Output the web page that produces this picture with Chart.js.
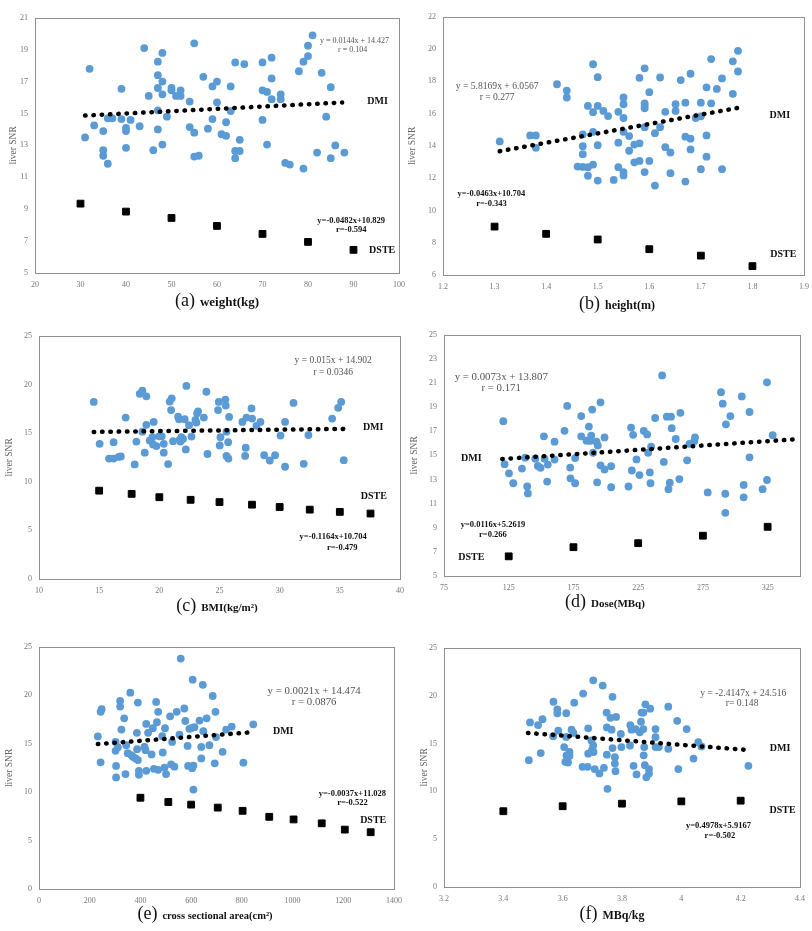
<!DOCTYPE html>
<html>
<head>
<meta charset="utf-8">
<script src="https://cdn.jsdelivr.net/npm/chart.js@4.4.1/dist/chart.umd.min.js"></script>
<style>
  body { margin: 0; background: #fff; width: 812px; height: 931px; position: relative; overflow: hidden; font-family: "Liberation Serif", serif; }
  canvas { position: absolute; }
  .cap { position: absolute; transform: translate(-50%, -50%); white-space: nowrap; color: #111; }
  .cap .p { font-size: 18px; }
  .cap .l { font-weight: bold; margin-left: 5px; }
</style>
</head>
<body>
<script>
// ---- data ----
// (a) weight
const weightTicksX = [20, 30, 40, 50, 60, 70, 80, 90, 100];
const weightTicksY = [5, 7, 9, 11, 13, 15, 17, 19, 21];
const weightDmi = [[31,13.5],[32,17.8],[33,14.25],[35,13.9],[35,12.7],[35,12.35],[36,11.85],[36,14.7],[37,14.7],[39,16.55],[39,14.65],[40,14.1],[40,13.9],[40,12.85],[41,14.6],[43,14.2],[44,19.1],[45,16.1],[46,12.7],[47,18.25],[47,17.4],[47,16.6],[47,15.2],[47,14.0],[48,18.8],[48,17.0],[48,16.2],[48,13.05],[49,14.8],[50,16.6],[50,16.45],[51,16.1],[52,16.45],[52,16.1],[54,15.75],[54,14.15],[55,19.4],[55,13.8],[55,12.3],[56,12.35],[57,17.3],[58,14.05],[59,16.7],[59,14.65],[60,17.0],[60,15.7],[61,13.7],[62,14.45],[62,13.6],[63,15.15],[63,16.7],[64,18.2],[64,12.65],[64,12.2],[65,12.65],[65,13.35],[66,18.1],[70,18.2],[70,16.45],[70,14.6],[71,16.35],[71,13.05],[72,18.5],[72,17.2],[72,15.9],[74,16.2],[74,15.9],[75,11.9],[76,11.8],[78,17.65],[79,11.55],[79,18.25],[80,18.6],[80,19.25],[81,19.9],[82,12.55],[83,17.55],[84,14.8],[85,16.65],[85,12.2],[86,13.0],[88,12.55]];
const weightDste = [[30,9.35],[40,8.85],[50,8.45],[60,7.95],[70,7.45],[80,6.95],[90,6.45]];
const weightTrend = [[31,14.87],[87.5,15.69]];

// (b) height
const heightTicksX = [1.2, 1.3, 1.4, 1.5, 1.6, 1.7, 1.8, 1.9];
const heightTicksY = [6, 8, 10, 12, 14, 16, 18, 20, 22];
const heightDmi = [[1.31,14.28],[1.369,14.65],[1.38,14.65],[1.38,13.88],[1.421,17.82],[1.44,17.43],[1.44,17.0],[1.461,12.72],[1.471,13.98],[1.471,13.49],[1.471,14.71],[1.471,12.7],[1.481,12.68],[1.481,12.15],[1.481,16.48],[1.491,19.06],[1.491,16.09],[1.491,14.87],[1.491,12.84],[1.5,18.26],[1.5,16.48],[1.5,14.04],[1.5,11.85],[1.511,16.17],[1.52,15.85],[1.531,11.89],[1.54,16.11],[1.54,14.2],[1.54,12.68],[1.55,17.0],[1.55,16.58],[1.55,15.73],[1.55,14.87],[1.55,12.38],[1.55,12.17],[1.561,14.61],[1.561,13.7],[1.571,14.08],[1.571,12.98],[1.581,18.22],[1.581,14.16],[1.581,13.07],[1.591,18.81],[1.591,16.64],[1.591,16.48],[1.591,16.33],[1.591,15.16],[1.591,12.38],[1.6,17.33],[1.6,13.07],[1.611,14.79],[1.611,11.54],[1.621,18.24],[1.621,15.16],[1.631,16.11],[1.631,13.92],[1.641,13.59],[1.641,12.31],[1.651,16.58],[1.651,16.17],[1.661,18.08],[1.67,16.68],[1.67,14.57],[1.67,11.79],[1.68,18.47],[1.68,14.45],[1.68,13.78],[1.69,15.73],[1.7,16.68],[1.7,15.83],[1.7,12.56],[1.711,17.63],[1.711,14.65],[1.711,13.33],[1.72,19.38],[1.72,16.64],[1.731,17.53],[1.741,18.18],[1.741,12.56],[1.762,19.24],[1.762,17.23],[1.772,19.89],[1.772,18.61]];
const heightDste = [[1.3,9.0],[1.4,8.55],[1.5,8.2],[1.6,7.6],[1.7,7.2],[1.8,6.55]];
const heightTrend = [[1.31,13.67],[1.783,16.42]];

// (c) BMI
const bmiTicksX = [10, 15, 20, 25, 30, 35, 40];
const bmiTicksY = [0, 5, 10, 15, 20, 25];
const bmiDmi = [[14.55,18.2],[15.04,13.9],[15.82,12.38],[16.2,12.38],[16.2,14.06],[16.62,12.55],[16.8,12.6],[17.2,16.59],[17.95,11.78],[18.09,14.13],[18.37,19.04],[18.59,19.35],[18.59,15.14],[18.79,12.99],[18.92,18.78],[18.92,15.85],[19.2,14.23],[19.42,14.57],[19.48,13.83],[19.53,16.15],[19.76,13.66],[19.98,14.67],[20.2,14.67],[20.37,13.9],[20.37,12.99],[20.73,11.81],[20.86,18.24],[21.03,18.57],[20.98,17.36],[21.14,14.17],[21.56,16.69],[21.64,16.42],[21.7,14.33],[21.75,14.13],[21.83,14.57],[21.97,14.4],[22.11,16.42],[22.2,13.32],[22.25,19.85],[22.47,15.81],[22.67,14.64],[23.0,16.35],[23.08,16.08],[23.14,17.03],[23.22,17.23],[23.7,16.59],[23.91,19.25],[24.0,12.85],[24.88,17.36],[24.94,18.2],[25.02,13.73],[25.08,14.57],[25.49,18.44],[25.52,17.83],[25.58,15.14],[25.58,12.65],[25.72,14.06],[25.74,12.38],[25.8,16.66],[26.9,16.15],[27.13,12.65],[27.18,13.49],[27.24,16.59],[27.66,17.53],[27.71,16.49],[28.07,15.75],[28.4,16.15],[28.71,12.72],[29.18,12.18],[29.62,12.72],[30.07,14.74],[30.45,11.54],[30.45,16.15],[31.15,18.1],[32.0,11.84],[32.39,14.8],[34.36,16.49],[34.86,17.6],[35.11,18.2],[35.33,12.21]];
const bmiDste = [[15,9.08],[17.7,8.75],[20,8.41],[22.6,8.14],[25,7.91],[27.7,7.64],[30,7.4],[32.5,7.13],[35,6.9],[37.55,6.73]];
const bmiTrend = [[14.55,15.12],[35.3,15.43]];

// (d) dose
const doseTicksX = [75, 125, 175, 225, 275, 325];
const doseTicksY = [5, 7, 9, 11, 13, 15, 17, 19, 21, 23, 25];
const doseDmi = [[120.8,17.83],[121.8,14.27],[125.2,13.51],[128.5,12.69],[135.2,13.91],[137.8,14.81],[139.3,12.42],[139.8,11.85],[145.5,14.73],[147.5,14.13],[149.6,13.97],[152.2,16.58],[152.7,14.73],[154.7,12.83],[155.2,14.24],[160.4,16.14],[160.4,14.65],[168.1,17.04],[170.2,19.1],[172.5,13.99],[172.7,13.1],[176.3,12.69],[176.3,14.78],[181,18.26],[181,16.58],[185.1,16.22],[186.9,17.39],[187.7,16.2],[188.7,16.63],[189.5,18.8],[190.2,15.22],[192.8,16.14],[193.8,15.82],[193.3,12.77],[195.9,19.4],[195.9,14.18],[199,16.49],[199,13.83],[204.1,14.1],[204.1,12.36],[217.5,12.42],[219.5,17.31],[220.1,13.75],[221.1,16.71],[223.7,14.67],[226,13.37],[229.3,17.04],[231.9,16.74],[232.7,15.22],[234,13.59],[234.5,12.69],[235,15.73],[238.1,18.1],[243.5,21.63],[244.8,14.46],[247.1,18.21],[248.4,12.2],[249.4,12.74],[250.4,18.21],[250.9,17.26],[254,16.36],[256.8,13.04],[257.6,18.53],[262.8,14.59],[264.6,15.95],[268.4,16.2],[268.9,16.49],[278.7,11.93],[289,20.24],[290.3,19.29],[292.3,11.82],[292.3,10.24],[292.8,17.58],[296.2,18.26],[305,19.89],[306.5,12.55],[306.5,11.52],[311,18.6],[311,14.84],[321.1,12.2],[324.5,21.06],[324.5,12.96],[328.9,16.68]];
const doseDste = [[125,6.63],[175,7.39],[225,7.72],[275,8.34],[325,9.08]];
const doseTrend = [[120,14.7],[345.6,16.33]];

// (e) cross sectional area
const areaTicksX = [0, 200, 400, 600, 800, 1000, 1200, 1400];
const areaTicksY = [0, 5, 10, 15, 20, 25];
const areaDmi = [[232,15.75],[243,13.08],[243,18.29],[247,18.56],[302,15.18],[302,14.26],[304,12.7],[304,11.52],[311,14.63],[320,19.41],[320,18.83],[325,16.46],[336,17.62],[341,11.86],[344,14.84],[350,14.02],[360,20.26],[364,13.82],[370,13.65],[381,13.48],[386,16.12],[387,14.43],[390,19.24],[390,13.31],[394,12.2],[394,11.79],[416,14.67],[420,14.33],[423,17.04],[423,12.2],[430,16.12],[444,13.89],[449,16.6],[453,12.4],[462,19.31],[465,17.21],[470,12.3],[470,18.29],[486,15.79],[488,14.09],[495,12.53],[497,16.6],[501,11.86],[517,17.82],[521,12.87],[525,15.18],[534,12.63],[543,18.29],[554,15.92],[559,23.78],[573,18.63],[577,17.34],[586,14.77],[588,12.7],[593,16.53],[600,16.6],[604,12.47],[606,21.61],[609,10.26],[609,12.74],[613,16.7],[633,17.38],[640,14.67],[646,21.07],[648,16.29],[640,13.48],[661,17.62],[672,14.84],[685,19.92],[693,12.97],[696,18.29],[698,15.68],[724,14.16],[738,16.46],[760,16.77],[806,13.04],[845,17.0]];
const areaDste = [[400,9.42],[510,8.98],[600,8.71],[705,8.4],[803,8.07],[908,7.45],[1004,7.18],[1115,6.78],[1206,6.13],[1308,5.86]];
const areaTrend = [[232,14.96],[849,16.2]];

// (f) MBq/kg
const perKgTicksX = [3.2, 3.4, 3.6, 3.8, 4.0, 4.2, 4.4];
const perKgTicksY = [0, 5, 10, 15, 20, 25];
const perKgDmi = [[3.486,13.25],[3.49,17.2],[3.517,16.92],[3.526,14.0],[3.532,17.54],[3.569,19.36],[3.568,15.76],[3.582,18.57],[3.582,18.16],[3.585,16.34],[3.605,14.62],[3.609,13.08],[3.612,18.16],[3.612,15.69],[3.613,13.76],[3.618,13.01],[3.623,14.11],[3.623,13.69],[3.63,16.44],[3.636,16.1],[3.639,19.26],[3.667,12.56],[3.669,20.22],[3.684,12.56],[3.686,16.58],[3.686,13.93],[3.697,15.31],[3.699,14.31],[3.703,21.6],[3.703,14.79],[3.704,14.11],[3.708,12.32],[3.724,11.87],[3.735,21.05],[3.739,12.46],[3.748,18.23],[3.749,16.68],[3.749,13.83],[3.751,10.26],[3.761,17.68],[3.765,16.44],[3.768,19.88],[3.768,14.52],[3.776,13.56],[3.776,12.9],[3.778,12.11],[3.78,17.78],[3.796,16.0],[3.798,14.62],[3.828,16.92],[3.832,16.44],[3.827,14.79],[3.839,12.66],[3.846,16.51],[3.849,11.77],[3.86,16.17],[3.864,17.27],[3.866,18.23],[3.872,18.23],[3.872,16.51],[3.873,13.76],[3.875,14.62],[3.877,12.73],[3.879,19.09],[3.882,11.46],[3.891,12.32],[3.891,11.87],[3.895,18.64],[3.913,16.51],[3.913,15.65],[3.913,14.62],[3.924,14.62],[3.956,14.45],[3.956,18.85],[3.986,17.37],[3.99,12.32],[4.018,16.51],[4.041,13.42],[4.057,15.14],[4.068,14.69],[4.226,12.66]];
const perKgDste = [[3.4,7.92],[3.6,8.44],[3.8,8.71],[4.0,8.95],[4.2,9.02]];
const perKgTrend = [[3.483,16.1],[4.212,14.35]];

// annotation texts (anchored in data units)
const weightNotes = [
  { t: 'y = 0.0144x + 14.427', x: 90.2, y: 19.54, k: 'eq' }, { t: 'r = 0.104', x: 89.8, y: 18.98, k: 'eq' },
  { t: 'DMI', x: 95.3, y: 15.77, k: 'lab' },
  { t: 'y=-0.0482x+10.829', x: 89.5, y: 8.3, k: 'eqb' }, { t: 'r=-0.594', x: 89.5, y: 7.7, k: 'eqb' },
  { t: 'DSTE', x: 96.3, y: 6.39, k: 'lab' }
];
const heightNotes = [
  { t: 'y = 5.8169x + 6.0567', x: 1.305, y: 17.7, k: 'eq' }, { t: 'r = 0.277', x: 1.305, y: 16.98, k: 'eq' },
  { t: 'DMI', x: 1.853, y: 15.87, k: 'lab' },
  { t: 'y=-0.0463x+10.704', x: 1.294, y: 11.04, k: 'eqb' }, { t: 'r=-0.343', x: 1.294, y: 10.43, k: 'eqb' },
  { t: 'DSTE', x: 1.86, y: 7.3, k: 'lab' }
];
const bmiNotes = [
  { t: 'y = 0.015x + 14.902', x: 34.45, y: 22.41, k: 'eq' }, { t: 'r = 0.0346', x: 34.45, y: 21.23, k: 'eq' },
  { t: 'DMI', x: 37.77, y: 15.58, k: 'lab' }, { t: 'DSTE', x: 37.83, y: 8.51, k: 'lab' },
  { t: 'y=-0.1164x+10.704', x: 34.45, y: 4.31, k: 'eqb' }, { t: 'r=-0.479', x: 35.2, y: 3.23, k: 'eqb' }
];
const doseNotes = [
  { t: 'y = 0.0073x + 13.807', x: 119.2, y: 21.47, k: 'eq' }, { t: 'r = 0.171', x: 119.2, y: 20.54, k: 'eq' },
  { t: 'DMI', x: 96.1, y: 14.78, k: 'lab' },
  { t: 'y=0.0116x+5.2619', x: 112.8, y: 9.21, k: 'eqb' }, { t: 'r=0.266', x: 112.8, y: 8.4, k: 'eqb' },
  { t: 'DSTE', x: 96.1, y: 6.58, k: 'lab' }
];
const areaNotes = [
  { t: 'y = 0.0021x + 14.474', x: 1085, y: 20.43, k: 'eq' }, { t: 'r = 0.0876', x: 1085, y: 19.31, k: 'eq' },
  { t: 'DMI', x: 963, y: 16.26, k: 'lab' },
  { t: 'y=-0.0037x+11.028', x: 1236, y: 9.82, k: 'eqb' }, { t: 'r=-0.522', x: 1236, y: 8.88, k: 'eqb' },
  { t: 'DSTE', x: 1318, y: 7.11, k: 'lab' }
];
const perKgNotes = [
  { t: 'y = -2.4147x + 24.516', x: 4.209, y: 20.22, k: 'eq' }, { t: 'r= 0.148', x: 4.205, y: 19.16, k: 'eq' },
  { t: 'DMI', x: 4.333, y: 14.45, k: 'lab' }, { t: 'DSTE', x: 4.341, y: 8.02, k: 'lab' },
  { t: 'y=0.4978x+5.9167', x: 4.125, y: 6.37, k: 'eqb' }, { t: 'r=-0.502', x: 4.13, y: 5.34, k: 'eqb' }
];

// ---- layout of the six panels (plot rectangle in page px) ----
const panels = [
  { l: 35,  t: 14,  r: 400, b: 273, yw: 27, tx: weightTicksX, ty: weightTicksY, dmi: weightDmi, dste: weightDste, trend: weightTrend, notes: weightNotes, eq: 8,
    cap: { x: 217, y: 300, p: '(a)', label: 'weight(kg)', size: 13 } },
  { l: 443, t: 13,  r: 804, b: 275, yw: 36, tx: heightTicksX, ty: heightTicksY, dmi: heightDmi, dste: heightDste, trend: heightTrend, notes: heightNotes, eq: 9.6,
    cap: { x: 617, y: 303, p: '(b)', label: 'height(m)', size: 12 } },
  { l: 39,  t: 332, r: 400, b: 579, yw: 35, tx: bmiTicksX, ty: bmiTicksY, dmi: bmiDmi, dste: bmiDste, trend: bmiTrend, notes: bmiNotes, eq: 9.5,
    cap: { x: 217, y: 605, p: '(c)', label: 'BMI(kg/m\u00b2)', size: 11 } },
  { l: 444, t: 331, r: 800, b: 576, yw: 35, tx: doseTicksX, ty: doseTicksY, dmi: doseDmi, dste: doseDste, trend: doseTrend, notes: doseNotes, eq: 10.8,
    xmax: 350, cap: { x: 605, y: 601, p: '(d)', label: 'Dose(MBq)', size: 11 } },
  { l: 39,  t: 643, r: 397, b: 889, yw: 35, tx: areaTicksX, ty: areaTicksY, dmi: areaDmi, dste: areaDste, trend: areaTrend, notes: areaNotes, eq: 10.8,
    cap: { x: 205, y: 913, p: '(e)', label: 'cross sectional area(cm\u00b2)', size: 10.5 } },
  { l: 444, t: 644, r: 800, b: 887, yw: 25, tx: perKgTicksX, ty: perKgTicksY, dmi: perKgDmi, dste: perKgDste, trend: perKgTrend, notes: perKgNotes, eq: 9.6,
    cap: { x: 612, y: 913, p: '(f)', label: 'MBq/kg', size: 12 } }
];

const SERIF = '"Liberation Serif", "Times New Roman", serif';
const BLUE = '#5B9BD5';
const PAD_T = 8, PAD_R = 12, XH = 22;

// grey frame round the plot area
const framePlugin = {
  id: 'frame',
  afterDraw(chart) {
    const a = chart.chartArea, ctx = chart.ctx;
    ctx.save();
    ctx.strokeStyle = '#8f8f8f';
    ctx.lineWidth = 1;
    ctx.strokeRect(Math.round(a.left) + 0.5, Math.round(a.top) + 0.5, Math.round(a.right - a.left), Math.round(a.bottom - a.top));
    ctx.restore();
  }
};

// equation / series labels
const notesPlugin = {
  id: 'notes',
  afterDatasetsDraw(chart, args, opts) {
    const { ctx, scales } = chart;
    ctx.save();
    ctx.textAlign = 'center';
    ctx.textBaseline = 'middle';
    opts.items.forEach(n => {
      if (n.k === 'eq') { ctx.font = opts.eq + 'px ' + SERIF; ctx.fillStyle = '#555'; }
      else if (n.k === 'eqb') { ctx.font = 'bold 8.5px ' + SERIF; ctx.fillStyle = '#111'; }
      else { ctx.font = 'bold 10px ' + SERIF; ctx.fillStyle = '#111'; }
      ctx.fillText(n.t, scales.x.getPixelForValue(n.x), scales.y.getPixelForValue(n.y));
    });
    ctx.restore();
  }
};

const fmt = v => String(Number(v.toFixed(2)));
const pts = arr => arr.map(([x, y]) => ({ x, y }));

panels.forEach(p => {
  const W = p.r - p.l + p.yw + PAD_R, H = p.b - p.t + PAD_T + XH;
  const cv = document.createElement('canvas');
  cv.width = W; cv.height = H;
  cv.style.left = (p.l - p.yw) + 'px';
  cv.style.top = (p.t - PAD_T) + 'px';
  cv.style.width = W + 'px'; cv.style.height = H + 'px';
  document.body.appendChild(cv);

  const cap = document.createElement('div');
  cap.className = 'cap';
  cap.style.left = p.cap.x + 'px';
  cap.style.top = p.cap.y + 'px';
  cap.innerHTML = '<span class="p">' + p.cap.p + '</span><span class="l" style="font-size:' + p.cap.size + 'px">' + p.cap.label + '</span>';
  document.body.appendChild(cap);

  new Chart(cv.getContext('2d'), {
    type: 'scatter',
    data: {
      datasets: [
        { label: 'trend', data: pts(p.trend), showLine: true, pointRadius: 0, borderColor: '#000', borderWidth: 4.5,
          borderDash: [0.5, 7.8], borderCapStyle: 'round', order: 0 },
        { label: 'DSTE', data: pts(p.dste), pointStyle: 'rect', pointRadius: 4.8, backgroundColor: '#000', borderColor: '#000', borderWidth: 1, order: 1 },
        { label: 'DMI', data: pts(p.dmi), pointStyle: 'circle', pointRadius: 3.9, backgroundColor: BLUE, borderColor: BLUE, borderWidth: 0, order: 2 }
      ]
    },
    options: {
      responsive: false,
      animation: false,
      devicePixelRatio: 1,
      layout: { padding: { left: 0, top: PAD_T, right: PAD_R, bottom: 0 } },
      plugins: {
        legend: { display: false },
        tooltip: { enabled: false },
        notes: { items: p.notes, eq: p.eq }
      },
      scales: {
        x: {
          type: 'linear',
          min: p.tx[0],
          max: p.xmax || p.tx[p.tx.length - 1],
          afterBuildTicks: s => { s.ticks = p.tx.map(value => ({ value })); },
          afterFit: s => { s.height = XH; },
          grid: { display: false, drawTicks: false },
          border: { display: false },
          ticks: { padding: 7, maxRotation: 0, autoSkip: false, color: '#777', font: { family: SERIF, size: 8 }, callback: v => fmt(v) }
        },
        y: {
          type: 'linear',
          min: p.ty[0],
          max: p.ty[p.ty.length - 1],
          afterBuildTicks: s => { s.ticks = p.ty.map(value => ({ value })); },
          afterFit: s => { s.width = p.yw; },
          grid: { display: false, drawTicks: false },
          border: { display: false },
          title: { display: true, text: 'liver SNR', color: '#666', padding: { top: 0, bottom: 0 }, font: { family: SERIF, size: 9.5 } },
          ticks: { padding: 7, autoSkip: false, color: '#777', font: { family: SERIF, size: 8 }, callback: v => fmt(v) }
        }
      }
    },
    plugins: [framePlugin, notesPlugin]
  });
});
</script>
</body>
</html>
